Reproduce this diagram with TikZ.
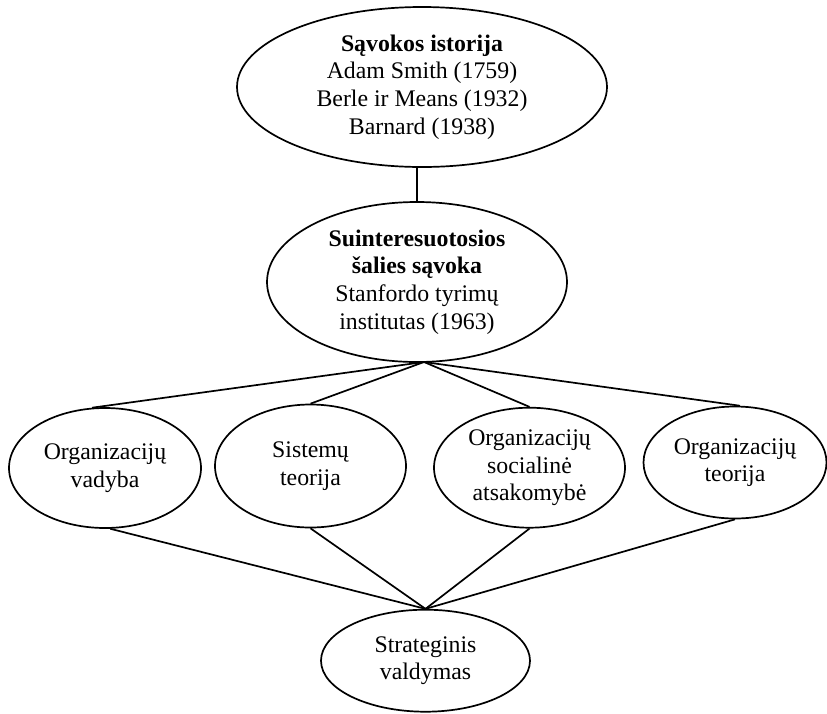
\documentclass[tikz,border=0pt]{standalone}
\usepackage{fontspec}
\setmainfont{Liberation Serif}
\usetikzlibrary{shapes.geometric}
\tikzset{
  oval/.style={draw=black, line width=1.7pt, ellipse, inner sep=0pt, align=center,
    font=\fontsize{23.8}{27.7}\selectfont},
  link/.style={draw=black, line width=1.7pt}
}
\begin{document}
\begin{tikzpicture}[x=1pt,y=-1pt]
\useasboundingbox (0,0) rectangle (827,713);
\node[oval, minimum width=370pt, minimum height=160pt] (top) at (422,87)
  {\textbf{Sąvokos istorija}\\Adam Smith (1759)\\Berle ir Means (1932)\\Barnard (1938)};
\node[oval, minimum width=300pt, minimum height=160pt] (mid) at (417,282)
  {\textbf{Suinteresuotosios}\\\textbf{šalies sąvoka}\\Stanfordo tyrimų\\institutas (1963)};
\node[oval, minimum width=192pt, minimum height=120pt] (e1) at (105,468)
  {Organizacijų\\vadyba};
\node[oval, minimum width=191pt, minimum height=123pt] (e2) at (310.5,466)
  {Sistemų\\teorija};
\node[oval, minimum width=191pt, minimum height=120pt] (e3) at (529.5,467.7)
  {Organizacijų\\socialinė\\atsakomybė};
\node[oval, minimum width=183pt, minimum height=112pt] (e4) at (735,462.5)
  {Organizacijų\\teorija};
\node[oval, minimum width=209pt, minimum height=102pt] (bot) at (425.5,660.7)
  {Strateginis\\valdymas};
\coordinate (c1) at (424,362);
\draw[link] (mid.north) -- (mid.north |- top.south);
\draw[link] (c1) -- (e1.102);
\draw[link] (c1) -- (e2.north);
\draw[link] (c1) -- (e3.north);
\draw[link] (c1) -- (e4.85);
\draw[link] (e1.275) -- (bot.north);
\draw[link] (e2.south) -- (bot.north);
\draw[link] (e3.south) -- (bot.north);
\draw[link] (e4.south) -- (bot.north);
\end{tikzpicture}
\end{document}
